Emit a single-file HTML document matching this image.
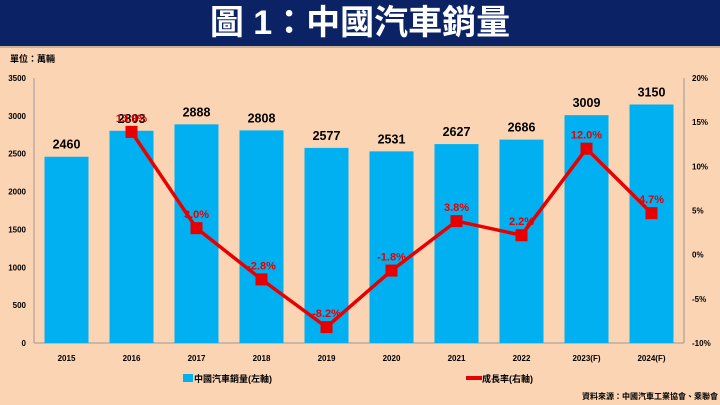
<!DOCTYPE html>
<html><head><meta charset="utf-8"><style>
body{margin:0;width:720px;height:405px;background:#fbd4b4;font-family:"Liberation Sans","Noto Sans CJK TC",sans-serif;overflow:hidden;position:relative}
#hdr{position:absolute;left:0;top:0;width:720px;height:46px;background:#0b2265;border-bottom:2px solid #c9b39a;color:#fff;font-weight:bold;font-size:34px;text-align:center;line-height:46px;font-family:"Liberation Sans","Noto Sans CJK TC",sans-serif}
svg{position:absolute;left:0;top:0}
text{font-family:"Liberation Sans","Noto Sans CJK TC",sans-serif;font-weight:bold}
</style></head><body>
<div id="hdr">圖 1：中國汽車銷量</div>
<svg id="c" width="720" height="405"></svg>
<script>
const categories=["2015","2016","2017","2018","2019","2020","2021","2022","2023(F)","2024(F)"];
const sales=[2460,2803,2888,2808,2577,2531,2627,2686,3009,3150];
const growth=[null,13.9,3.0,-2.8,-8.2,-1.8,3.8,2.2,12.0,4.7];
const leftTicks=[0,500,1000,1500,2000,2500,3000,3500];
const rightTicks=[-10,-5,0,5,10,15,20];
const svg=document.getElementById('c');const NS='http://www.w3.org/2000/svg';
const X0=34,X1=684,YT=78,YB=343;
const step=(X1-X0)/categories.length;
const xc=i=>X0+step*(i+0.5);
const yl=v=>YB-(v/3500)*(YB-YT);
const yr=v=>YB-((v+10)/30)*(YB-YT);
function el(t,a,txt){const e=document.createElementNS(NS,t);for(const k in a)e.setAttribute(k,a[k]);if(txt!=null)e.textContent=txt;svg.appendChild(e);return e;}
let e;
e=el('text',{x:10,y:62,'font-size':9,fill:'#000'},'單位：萬輛');
e=el('line',{x1:X0,y1:YT,x2:X0,y2:YB,stroke:'#999'});
e=el('line',{x1:X1,y1:YT,x2:X1,y2:YB,stroke:'#999'});
e=el('line',{x1:X0,y1:YB,x2:X1,y2:YB,stroke:'#999'});
leftTicks.forEach(v=>{const t=el('text',{x:26,y:yl(v)+3,'font-size':8,'text-anchor':'end',fill:'#000'},v);});
rightTicks.forEach(v=>{const t=el('text',{x:692,y:yr(v)+3,'font-size':8,fill:'#000'},v+'%');});
categories.forEach((c,i)=>{
 const b=el('rect',{x:xc(i)-22,y:yl(sales[i]),width:44,height:YB-yl(sales[i]),fill:'#00b0f0'});
 const l=el('text',{x:xc(i),y:yl(sales[i])-8,'font-size':12.5,'text-anchor':'middle',fill:'#000'},sales[i]);
 const t=el('text',{x:xc(i),y:361,'font-size':8,'text-anchor':'middle',fill:'#000'},c);
});
let pts=[];growth.forEach((g,i)=>{if(g!=null)pts.push(xc(i)+','+yr(g));});
e=el('polyline',{points:pts.join(' '),fill:'none',stroke:'#e80000','stroke-width':3.5});
growth.forEach((g,i)=>{if(g==null)return;
 const m=el('rect',{x:xc(i)-6,y:yr(g)-6,width:12,height:12,fill:'#e80000'});
 const t=el('text',{x:xc(i),y:yr(g)-10,'font-size':11,'text-anchor':'middle',fill:'#e80000'},g.toFixed(1)+'%');
});
e=el('rect',{x:183,y:374,width:10,height:8,fill:'#00b0f0'});
e=el('text',{x:194,y:382,'font-size':9,fill:'#000'},'中國汽車銷量(左軸)');
e=el('line',{x1:466,y1:378,x2:482,y2:378,stroke:'#e80000','stroke-width':4});
e=el('text',{x:482,y:382,'font-size':9,fill:'#000'},'成長率(右軸)');
e=el('text',{x:718,y:399,'font-size':8,'text-anchor':'end',fill:'#000'},'資料來源：中國汽車工業協會、乘聯會');
</script>
</body></html>
